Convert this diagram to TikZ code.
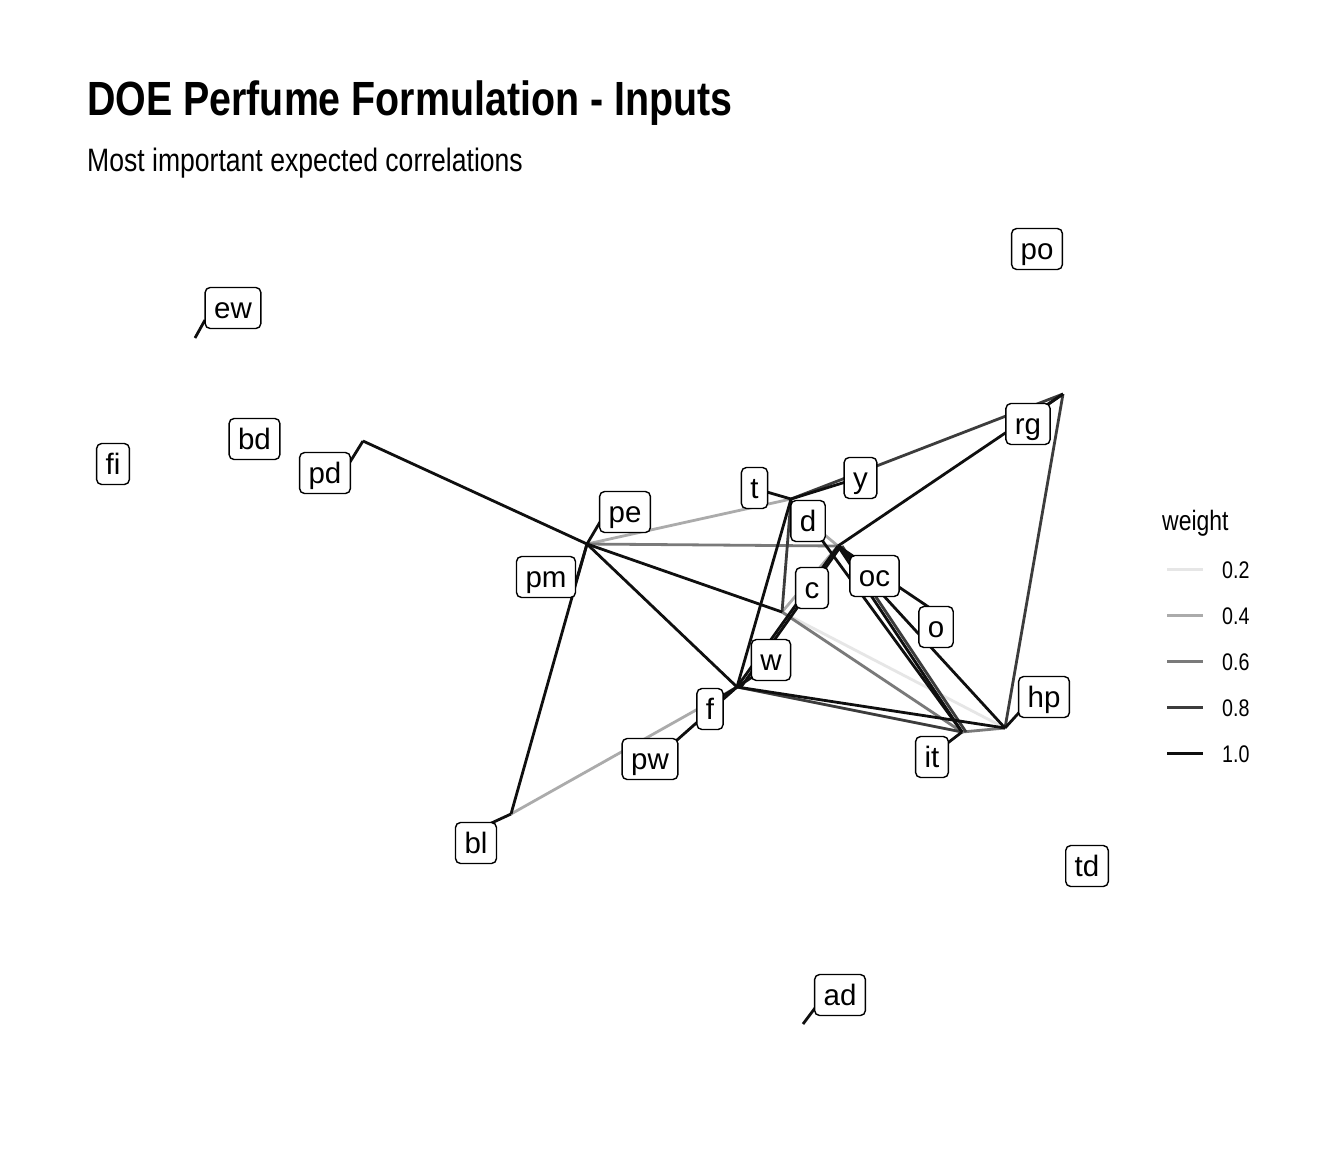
\documentclass[tikz,border=0pt]{standalone}
\usepackage{fontspec}
\setmainfont{Liberation Sans}
\newfontfamily\narrowfont[FakeStretch=0.82]{Liberation Sans}
\definecolor{wtwo}{HTML}{E6E6E6}
\definecolor{wfour}{HTML}{ABABAB}
\definecolor{wsix}{HTML}{7A7A7A}
\definecolor{weight8}{HTML}{3C3C3C}
\definecolor{wten}{HTML}{0F0F0F}
\begin{document}
\begin{tikzpicture}[x=1pt,y=-1pt,
  lbl/.style={draw=black, line width=1.4pt, fill=white, rounded corners=5pt,
    font=\fontsize{29.5}{34}\selectfont, text height=24pt, text depth=3pt,
    inner xsep=9pt, inner ysep=7pt, minimum height=41pt},
  seg/.style={line width=2.8pt, draw=wten},
  edge/.style={line width=2.8pt},
  ew2/.style={edge, draw=wtwo},
  ew4/.style={edge, draw=wfour},
  ew6/.style={edge, draw=wsix},
  ew8/.style={edge, draw=weight8},
  ew10/.style={edge, draw=wten},
  keyline/.style={line width=3pt},
  keytext/.style={anchor=base west, inner sep=0pt, font=\narrowfont\fontsize{24}{28}\selectfont}
]
\useasboundingbox (0,0) rectangle (1344,1152);
\fill[white] (0,0) rectangle (1344,1152);

% titles
\node[anchor=base west, inner sep=0pt, font=\narrowfont\bfseries\fontsize{48}{56}\selectfont]
  (title) at (87,115) {DOE Perfume Formulation - Inputs};
\node[anchor=base west, inner sep=0pt, font=\narrowfont\fontsize{32.4}{38}\selectfont]
  (subtitle) at (87,171) {Most important expected correlations};

% node positions
\coordinate (ewP) at (195,338);
\coordinate (pdP) at (363,441);
\coordinate (A) at (587,544);   % pe, pm
\coordinate (B) at (791,499);   % t, y
\coordinate (C) at (1063,394);  % rg
\coordinate (D) at (737,687);   % f, w, pw
\coordinate (E) at (1005,728);  % hp
\coordinate (F) at (962,732);   % it
\coordinate (G) at (838,546);   % oc
\coordinate (H) at (782,612);   % c
\coordinate (dP) at (808,521);  % d
\coordinate (oP) at (936,612);  % o
\coordinate (blP) at (511,814);
\coordinate (adP) at (803,1024);

% edges
\draw[ew2] (H) -- (E);
\draw[ew4] (A) -- (B);
\draw[ew4] (blP) -- (D);
\draw[ew4] (dP) -- (G);
\draw[ew4] (H) -- (G);
\draw[ew6] (A) -- (G);
\draw[ew6] (H) -- (F);
\draw[ew6] (F) -- (E);
\draw[ew8] (B) -- (C);
\draw[ew8] (B) -- (H);
\draw[ew8] (C) -- (E);
\draw[ew8] (D) -- (F);
\draw[ew8] ([xshift=4pt]G) -- ([xshift=4pt]F);
\draw[ew10] (pdP) -- (A);
\draw[ew10] (A) -- (D);
\draw[ew10] (A) -- (H);
\draw[ew10] (A) -- (blP);
\draw[ew10] (B) -- (D);
\draw[ew10] (dP) -- (F);
\draw[ew10] (G) -- (C);
\draw[ew10] (D) -- (G);
\draw[ew10] ([xshift=4pt]D) -- ([xshift=3pt]G);
\draw[ew10] (G) -- (F);
\draw[ew10] (G) -- (E);
\draw[ew10] (G) -- (oP);
\draw[ew10] (D) -- (E);

% label leader segments
\draw[seg] (ewP) -- (205,320);
\draw[seg] (pdP) -- (350,462);
\draw[seg] (A) -- (600,522);
\draw[seg] (A) -- (577,578);
\draw[seg] (B) -- (760,490);
\draw[seg] (B) -- (852,480);
\draw[seg] (C) -- (1040,410);
\draw[seg] (G) -- (858,562);
\draw[seg] (E) -- (1025,706);
\draw[seg] (D) -- (716,700);
\draw[seg] (D) -- (760,672);
\draw[seg] (D) -- (668,748);
\draw[seg] (F) -- (945,745);
\draw[seg] (blP) -- (485,826);
\draw[seg] (adP) -- (815,1008);

% label boxes
\node[lbl] (po) at (1037,249) {po};
\node[lbl] (ew) at (233,308) {ew};
\node[lbl] (bd) at (254.5,439) {bd};
\node[lbl] (fi) at (113,464) {fi};
\node[lbl] (pd) at (325,473) {pd};
\node[lbl] (pe) at (625,512) {pe};
\node[lbl] (pm) at (546,577) {pm};
\node[lbl] (t) at (754.5,488) {t};
\node[lbl] (y) at (860.5,478) {y};
\node[lbl] (rg) at (1028,424) {rg};
\node[lbl] (d) at (808,521) {d};
\node[lbl] (oc) at (874.5,576) {oc};
\node[lbl] (c) at (812,588) {c};
\node[lbl] (o) at (936,627) {o};
\node[lbl] (w) at (771,660) {w};
\node[lbl] (hp) at (1044,697) {hp};
\node[lbl] (f) at (710,709) {f};
\node[lbl] (it) at (932,757) {it};
\node[lbl] (pw) at (650,759) {pw};
\node[lbl] (bl) at (476,843) {bl};
\node[lbl] (td) at (1087,866) {td};
\node[lbl] (ad) at (840,995) {ad};

% legend
\node[anchor=base west, inner sep=0pt, font=\narrowfont\fontsize{28}{32}\selectfont]
  (legtitle) at (1162,530) {weight};
\draw[keyline, draw=wtwo] (1167,569) -- (1203,569);
\draw[keyline, draw=wfour] (1167,615) -- (1203,615);
\draw[keyline, draw=wsix] (1167,661) -- (1203,661);
\draw[keyline, draw=weight8] (1167,707) -- (1203,707);
\draw[keyline, draw=wten] (1167,753) -- (1203,753);
\node[keytext] (k2) at (1222,578) {0.2};
\node[keytext] (k4) at (1222,624) {0.4};
\node[keytext] (k6) at (1222,670) {0.6};
\node[keytext] (k8) at (1222,716) {0.8};
\node[keytext] (k10) at (1222,762) {1.0};
\end{tikzpicture}
\end{document}
